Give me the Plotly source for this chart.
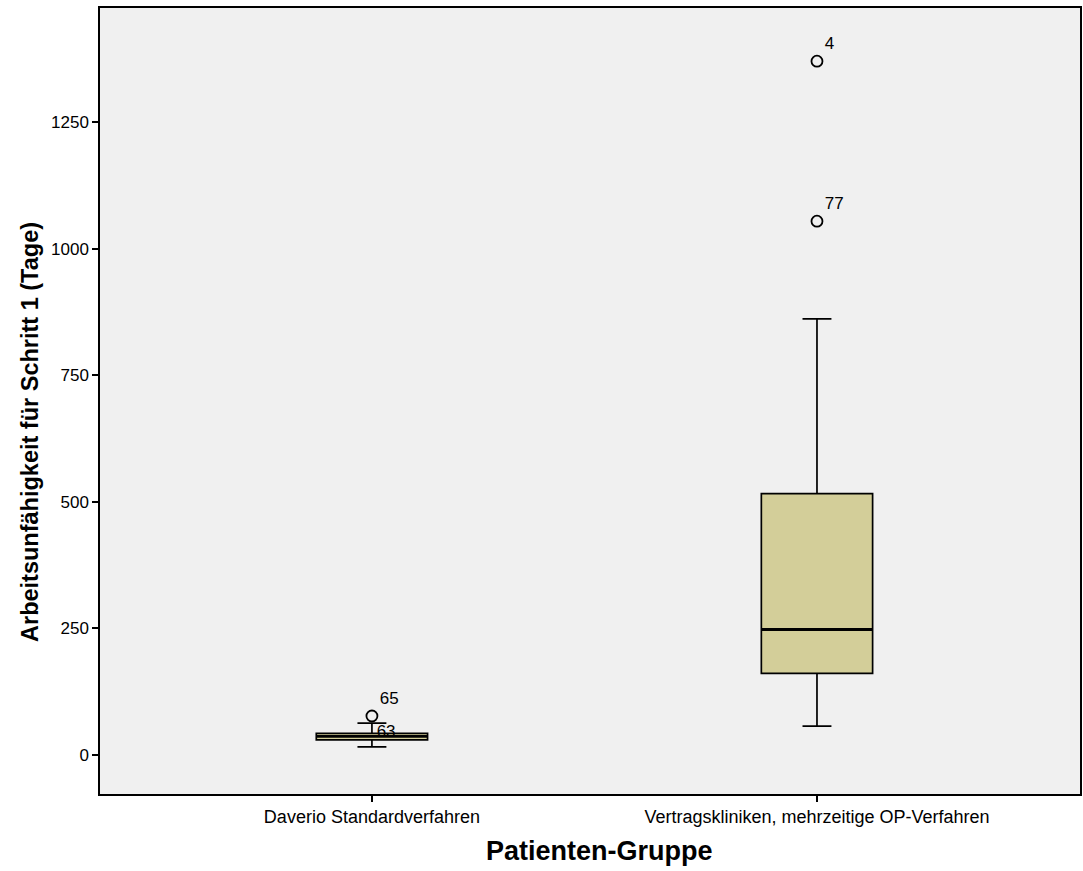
import plotly.graph_objects as go

categories = ["Daverio Standardverfahren", "Vertragskliniken, mehrzeitige OP-Verfahren"]
q1 = [30, 161]
median = [37, 248]
q3 = [43, 516]
lower_fence = [16, 57]
upper_fence = [63, 861]
outlier_group = [0, 1, 1]
outlier_values = [77, 1370, 1054]
outlier_labels = ["65", "4", "77"]
extra_label_group = [0]
extra_label_values = [43]
extra_label_text = [" 63"]

box_w = 0.25
fill = "#D3CE99"
font = "Liberation Sans, Arial, sans-serif"

fig = go.Figure()
fig.add_trace(go.Box(
    x=[0, 1], q1=q1, median=median, q3=q3,
    lowerfence=lower_fence, upperfence=upper_fence,
    width=box_w, whiskerwidth=0.26,
    fillcolor=fill, line=dict(color="black", width=1.7),
    boxpoints=False, showlegend=False, hoverinfo="skip",
))
# thicker median lines
for i, m in enumerate(median):
    fig.add_trace(go.Scatter(
        x=[i - box_w / 2, i + box_w / 2], y=[m, m], mode="lines",
        line=dict(color="black", width=3), showlegend=False, hoverinfo="skip",
    ))
# outliers
fig.add_trace(go.Scatter(
    x=outlier_group, y=outlier_values, mode="markers+text",
    marker=dict(symbol="circle-open", size=11, color="black", line=dict(width=1.8)),
    text=outlier_labels, textposition="top right",
    textfont=dict(family=font, size=17, color="black"),
    showlegend=False, hoverinfo="skip",
))
fig.add_trace(go.Scatter(
    x=extra_label_group, y=extra_label_values, mode="text",
    text=extra_label_text, textposition="middle right",
    textfont=dict(family=font, size=17, color="black"),
    showlegend=False, hoverinfo="skip",
))

fig.update_layout(
    width=1083, height=871,
    margin=dict(l=100, r=3, t=8, b=77),
    paper_bgcolor="white", plot_bgcolor="#F0F0F0",
    font=dict(family=font, color="black"),
    annotations=[
        dict(text="<b>Arbeitsunfähigkeit für Schritt 1 (Tage)</b>", textangle=-90,
             xref="paper", yref="paper", x=0, xshift=-70, y=0.4606,
             xanchor="center", yanchor="middle", showarrow=False,
             font=dict(size=23.5, family=font, color="black")),
        dict(text="<b>Patienten-Gruppe</b>",
             xref="paper", yref="paper", x=0.5102, y=-0.0725,
             xanchor="center", yanchor="middle", showarrow=False,
             font=dict(size=27, family=font, color="black")),
    ],
)
fig.update_xaxes(
    range=[-0.611, 1.591], tickvals=[0, 1], ticktext=categories,
    ticks="outside", ticklen=6, tickcolor="black", tickwidth=1.5,
    showgrid=False, zeroline=False, automargin=False,
    showline=True, linecolor="black", linewidth=1.5, mirror=True,
    tickfont=dict(size=18, family=font),
)
fig.update_yaxes(
    range=[-77, 1475], tickvals=[0, 250, 500, 750, 1000, 1250],
    ticks="outside", ticklen=6, tickcolor="black", tickwidth=1.5,
    showgrid=False, zeroline=False, automargin=False,
    showline=True, linecolor="black", linewidth=1.5, mirror=True,
    tickfont=dict(size=17, family=font),
)
fig.write_html("out.html", config={"responsive": False, "displayModeBar": False},
               post_script="document.body.style.margin='0';document.body.style.overflow='hidden';")
